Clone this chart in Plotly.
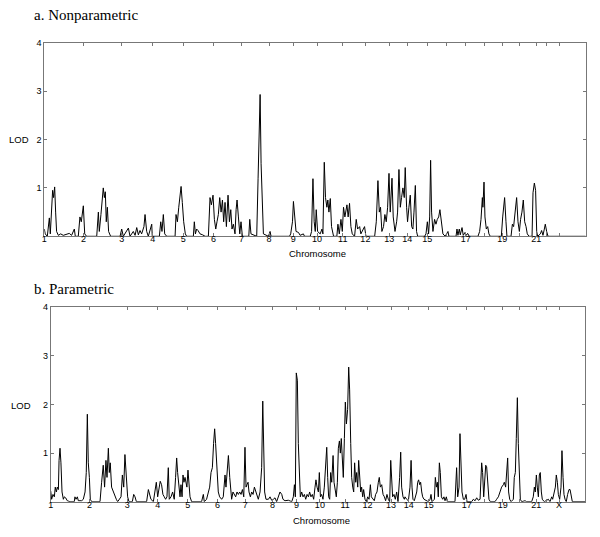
import plotly.graph_objects as go

# Chromosome start positions (cumulative cM) and labels
chrom_starts = [0, 288, 568, 794, 1018, 1239, 1445, 1646, 1824, 1998, 2186, 2352,
                2526, 2658, 2806, 2947, 3088, 3222, 3355, 3482, 3604, 3680, 3773]
chrom_labels_top = ["1", "2", "3", "4", "5", "6", "7", "8", "9", "10", "11", "12",
                    "13", "14", "15", "", "17", "", "19", "", "21", "", ""]
chrom_labels_bottom = ["1", "2", "3", "4", "5", "6", "7", "8", "9", "10", "11", "12",
                       "13", "14", "15", "", "17", "", "19", "", "21", "", "X"]
genome_end = 3966
lod_ticks = [1, 2, 3, 4]

# a. Nonparametric LOD scan
npl_pos = [0, 7, 22, 37, 44, 54, 61, 68, 76, 83, 90, 103, 120, 139, 164, 183, 200, 220, 227,
           249, 261, 271, 286, 296, 310, 384, 396, 403, 415, 425, 432, 440, 447, 454, 462, 471,
           486, 555, 567, 579, 616, 628, 652, 665, 677, 689, 701, 713, 730, 738, 750, 762, 787,
           791, 843, 853, 862, 872, 882, 897, 958, 965, 975, 985, 994, 1002, 1011, 1021, 1033,
           1043, 1092, 1099, 1107, 1116, 1126, 1141, 1160, 1178, 1202, 1214, 1224, 1236, 1246,
           1256, 1265, 1275, 1285, 1295, 1305, 1314, 1324, 1334, 1346, 1356, 1366, 1375, 1385,
           1397, 1405, 1412, 1422, 1432, 1441, 1451, 1498, 1505, 1514, 1556, 1566, 1576, 1581,
           1588, 1595, 1605, 1642, 1654, 1661, 1796, 1805, 1818, 1825, 1835, 1844, 1862, 1874,
           1898, 1906, 1948, 1958, 1968, 1977, 1985, 1992, 2002, 2021, 2034, 2041, 2051, 2060,
           2070, 2077, 2085, 2095, 2104, 2119, 2143, 2151, 2161, 2173, 2183, 2192, 2202, 2217,
           2226, 2236, 2246, 2256, 2273, 2285, 2295, 2310, 2319, 2334, 2346, 2356, 2420, 2432,
           2444, 2454, 2463, 2473, 2485, 2495, 2505, 2515, 2525, 2534, 2547, 2556, 2569, 2581,
           2588, 2598, 2608, 2617, 2627, 2637, 2644, 2654, 2661, 2671, 2681, 2691, 2700, 2708,
           2718, 2727, 2735, 2786, 2796, 2806, 2815, 2823, 2830, 2837, 2847, 2859, 2869, 2879,
           2889, 2898, 2908, 2920, 2937, 2957, 2964, 3016, 3023, 3030, 3040, 3047, 3060, 3069,
           3082, 3091, 3101, 3113, 3177, 3189, 3199, 3209, 3213, 3221, 3228, 3238, 3248, 3257,
           3267, 3348, 3358, 3365, 3372, 3382, 3389, 3419, 3429, 3438, 3448, 3460, 3470, 3480,
           3489, 3499, 3509, 3519, 3529, 3538, 3551, 3573, 3580, 3590, 3599, 3607, 3614, 3634,
           3643, 3653, 3663, 3670, 3680, 3690, 3966]
npl_lod = [0.15, 0.05, 0.0, 0.38, 0.05, 0.6, 0.95, 0.8, 1.02, 0.5, 0.1, 0.02, 0.05, 0.02, 0.05,
           0.06, 0.02, 0.15, 0.0, 0.0, 0.4, 0.3, 0.63, 0.05, 0.0, 0.0, 0.5, 0.1, 0.45, 0.75, 1.0,
           0.8, 0.92, 0.3, 0.6, 0.1, 0.0, 0.0, 0.15, 0.0, 0.17, 0.0, 0.1, 0.02, 0.18, 0.03, 0.12,
           0.05, 0.2, 0.45, 0.1, 0.0, 0.25, 0.0, 0.0, 0.3, 0.1, 0.45, 0.05, 0.0, 0.0, 0.45, 0.3,
           0.6, 0.9, 1.03, 0.7, 0.3, 0.05, 0.0, 0.0, 0.3, 0.05, 0.15, 0.12, 0.05, 0.03, 0.0, 0.0,
           0.8, 0.65, 0.85, 0.35, 0.15, 0.3, 0.45, 0.8, 0.5, 0.75, 0.3, 0.7, 0.2, 0.85, 0.3, 0.55,
           0.15, 0.25, 0.05, 0.55, 0.75, 0.4, 0.05, 0.3, 0.0, 0.0, 0.35, 0.05, 0.0, 1.2, 2.2, 2.93,
           1.5, 1.0, 0.05, 0.0, 0.1, 0.0, 0.0, 0.05, 0.3, 0.72, 0.3, 0.1, 0.08, 0.02, 0.05, 0.0,
           0.0, 0.1, 1.19, 0.3, 0.1, 0.55, 0.1, 0.05, 0.15, 0.05, 1.53, 0.8, 0.6, 0.75, 0.5, 0.78,
           0.2, 0.0, 0.0, 0.25, 0.05, 0.35, 0.1, 0.6, 0.4, 0.65, 0.4, 0.68, 0.2, 0.05, 0.0, 0.35,
           0.15, 0.2, 0.05, 0.15, 0.2, 0.0, 0.0, 0.3, 1.15, 0.5, 0.6, 0.1, 0.2, 0.45, 0.3, 0.6,
           1.3, 0.5, 1.2, 0.4, 0.1, 0.3, 0.5, 1.38, 0.6, 0.8, 1.0, 0.8, 1.42, 0.6, 0.3, 0.6, 0.85,
           0.2, 0.15, 0.5, 1.05, 0.1, 0.0, 0.0, 0.05, 0.3, 0.05, 0.4, 1.57, 0.5, 0.1, 0.35, 0.25,
           0.35, 0.4, 0.55, 0.35, 0.05, 0.0, 0.1, 0.0, 0.0, 0.15, 0.02, 0.15, 0.03, 0.18, 0.02,
           0.08, 0.02, 0.06, 0.0, 0.0, 0.1, 0.35, 0.8, 0.6, 1.12, 0.4, 0.15, 0.2, 0.05, 0.0, 0.0,
           0.4, 0.7, 0.8, 0.3, 0.0, 0.0, 0.25, 0.2, 0.45, 0.8, 0.3, 0.1, 0.35, 0.5, 0.75, 0.3,
           0.2, 0.05, 0.0, 0.0, 0.9, 1.1, 0.95, 0.1, 0.0, 0.05, 0.12, 0.02, 0.15, 0.25, 0.1, 0.0,
           0.0]

# b. Parametric LOD scan
par_pos = [0, 7, 17, 27, 34, 42, 49, 57, 62, 69, 76, 84, 94, 101, 111, 123, 143, 175, 180, 188,
           198, 205, 230, 242, 255, 264, 272, 279, 287, 294, 304, 366, 378, 390, 400, 410, 418,
           428, 435, 442, 452, 465, 477, 487, 497, 522, 532, 542, 551, 561, 571, 581, 606, 616,
           626, 636, 712, 725, 734, 744, 762, 774, 784, 794, 804, 813, 823, 833, 843, 853, 863,
           873, 880, 893, 905, 917, 927, 935, 942, 952, 960, 967, 975, 982, 989, 997, 1004, 1011,
           1019, 1026, 1034, 1046, 1120, 1133, 1140, 1157, 1170, 1180, 1190, 1200, 1209, 1217,
           1224, 1234, 1244, 1254, 1269, 1281, 1294, 1301, 1309, 1319, 1329, 1336, 1343, 1353,
           1363, 1373, 1383, 1393, 1403, 1413, 1423, 1433, 1442, 1450, 1457, 1465, 1472, 1482,
           1492, 1502, 1512, 1522, 1532, 1541, 1554, 1566, 1574, 1581, 1588, 1598, 1616, 1628,
           1640, 1653, 1665, 1677, 1690, 1702, 1715, 1724, 1739, 1764, 1789, 1801, 1809, 1816,
           1823, 1831, 1838, 1846, 1853, 1863, 1873, 1883, 1893, 1903, 1913, 1922, 1932, 1942,
           1952, 1962, 1969, 1977, 1987, 1994, 2002, 2011, 2021, 2031, 2039, 2049, 2056, 2063,
           2071, 2078, 2086, 2096, 2103, 2110, 2120, 2128, 2135, 2143, 2150, 2157, 2165, 2172,
           2180, 2187, 2195, 2204, 2212, 2219, 2227, 2234, 2242, 2249, 2256, 2264, 2271, 2279,
           2286, 2293, 2301, 2308, 2316, 2323, 2333, 2343, 2353, 2363, 2373, 2380, 2390, 2402,
           2412, 2422, 2432, 2439, 2447, 2457, 2467, 2477, 2486, 2496, 2506, 2516, 2524, 2531,
           2538, 2548, 2558, 2568, 2578, 2590, 2598, 2605, 2615, 2625, 2630, 2642, 2655, 2667,
           2675, 2682, 2689, 2699, 2709, 2717, 2724, 2731, 2739, 2746, 2754, 2761, 2771, 2783,
           2803, 2816, 2823, 2830, 2848, 2855, 2863, 2870, 2877, 2885, 2892, 2900, 2910, 2919,
           2927, 2937, 2944, 3001, 3013, 3021, 3031, 3038, 3046, 3053, 3063, 3073, 3083, 3090,
           3125, 3137, 3150, 3162, 3174, 3187, 3199, 3206, 3214, 3221, 3229, 3236, 3244, 3253,
           3263, 3298, 3310, 3323, 3335, 3347, 3360, 3367, 3377, 3385, 3392, 3399, 3407, 3417,
           3434, 3441, 3449, 3456, 3464, 3471, 3479, 3486, 3496, 3521, 3533, 3570, 3582, 3590,
           3597, 3605, 3612, 3620, 3627, 3634, 3642, 3649, 3664, 3681, 3694, 3706, 3719, 3726,
           3738, 3746, 3753, 3761, 3768, 3778, 3788, 3795, 3803, 3810, 3818, 3827, 3837, 3847,
           3855, 3862, 3872, 3966]
par_lod = [0.22, 0.05, 0.15, 0.1, 0.3, 0.2, 0.3, 0.25, 0.85, 1.1, 0.8, 0.2, 0.05, 0.1, 0.08,
           0.02, 0.0, 0.0, 0.1, 0.05, 0.1, 0.02, 0.02, 0.05, 0.2, 0.6, 1.8, 0.8, 0.5, 0.05, 0.0,
           0.0, 0.4, 0.75, 0.3, 0.85, 0.5, 1.1, 0.6, 0.8, 0.3, 0.2, 0.15, 0.05, 0.0, 0.1, 0.55,
           0.3, 0.97, 0.6, 0.1, 0.0, 0.0, 0.15, 0.1, 0.0, 0.0, 0.25, 0.15, 0.05, 0.0, 0.2, 0.4,
           0.1, 0.3, 0.42, 0.35, 0.15, 0.1, 0.05, 0.1, 0.7, 0.05, 0.1, 0.2, 0.05, 0.5, 0.9, 0.6,
           0.3, 0.1, 0.35, 0.1, 0.55, 0.4, 0.5, 0.35, 0.3, 0.65, 0.4, 0.1, 0.0, 0.0, 0.15, 0.0,
           0.05, 0.2, 0.3, 0.6, 0.7, 1.2, 1.5, 1.2, 0.7, 0.2, 0.1, 0.05, 0.1, 0.55, 0.3, 0.6, 0.95,
           0.5, 0.15, 0.05, 0.2, 0.15, 0.1, 0.2, 0.15, 0.2, 0.15, 0.25, 0.1, 1.12, 0.3, 0.35, 0.4,
           0.2, 0.1, 0.2, 0.15, 0.3, 0.2, 0.15, 0.05, 0.2, 0.7, 2.07, 1.0, 0.2, 0.05, 0.05, 0.1,
           0.03, 0.05, 0.08, 0.0, 0.1, 0.2, 0.15, 0.05, 0.02, 0.03, 0.0, 0.1, 0.35, 0.1, 2.65,
           2.5, 1.2, 0.3, 0.1, 0.2, 0.1, 0.15, 0.05, 0.15, 0.1, 0.2, 0.1, 0.15, 0.05, 0.3, 0.45,
           0.3, 0.2, 0.6, 0.1, 0.15, 0.05, 0.3, 0.6, 1.12, 0.5, 0.1, 0.05, 0.6, 0.4, 0.95, 0.4,
           0.3, 0.1, 0.4, 1.1, 1.25, 1.0, 1.3, 0.8, 0.5, 1.3, 2.05, 1.6, 1.9, 2.77, 2.3, 1.2, 0.5,
           0.3, 0.2, 0.8, 0.4, 0.6, 0.3, 0.85, 0.4, 0.2, 0.3, 0.1, 0.25, 0.05, 0.0, 0.1, 0.05,
           0.35, 0.1, 0.05, 0.02, 0.15, 0.2, 0.4, 0.5, 0.3, 0.35, 0.15, 0.1, 0.02, 0.15, 0.05,
           0.0, 0.85, 0.3, 0.1, 0.15, 0.05, 0.2, 0.0, 0.5, 1.02, 0.3, 0.1, 0.05, 0.1, 0.05, 0.02,
           0.3, 0.85, 0.3, 0.05, 0.02, 0.1, 0.2, 0.4, 0.45, 0.35, 0.4, 0.2, 0.1, 0.05, 0.03, 0.0,
           0.05, 0.15, 0.0, 0.05, 0.5, 0.3, 0.4, 0.1, 0.8, 0.6, 0.1, 0.05, 0.1, 0.02, 0.1, 0.0,
           0.0, 0.7, 0.1, 0.3, 1.4, 0.7, 0.2, 0.05, 0.05, 0.15, 0.0, 0.0, 0.05, 0.02, 0.08, 0.03,
           0.05, 0.8, 0.6, 0.1, 0.5, 0.75, 0.72, 0.3, 0.05, 0.0, 0.0, 0.05, 0.1, 0.2, 0.3, 0.35,
           0.4, 0.3, 0.6, 0.9, 0.2, 0.05, 0.0, 0.05, 0.5, 0.6, 1.3, 2.14, 1.2, 0.3, 0.05, 0.0,
           0.02, 0.0, 0.0, 0.1, 0.3, 0.2, 0.55, 0.3, 0.1, 0.55, 0.6, 0.2, 0.05, 0.0, 0.02, 0.05,
           0.0, 0.1, 0.05, 0.25, 0.3, 0.55, 0.4, 0.15, 0.05, 0.3, 1.05, 0.5, 0.15, 0.05, 0.0,
           0.15, 0.25, 0.25, 0.1, 0.0, 0.0]

W, H = 600, 537
sans = "Liberation Sans, Arial, sans-serif"
serif = "Liberation Serif, Times New Roman, serif"

fig = go.Figure()
fig.add_trace(go.Scatter(x=npl_pos, y=npl_lod, mode="lines",
                         line=dict(color="black", width=1), xaxis="x", yaxis="y",
                         showlegend=False, hoverinfo="skip"))
fig.add_trace(go.Scatter(x=par_pos, y=par_lod, mode="lines",
                         line=dict(color="black", width=1), xaxis="x2", yaxis="y2",
                         showlegend=False, hoverinfo="skip"))

def xax(domain, labels, anchor):
    return dict(domain=domain, range=[0, genome_end], anchor=anchor, automargin=False,
                tickmode="array", tickvals=chrom_starts, ticktext=labels,
                ticks="inside", ticklen=3, tickcolor="#777", showline=True,
                linecolor="#777", linewidth=1, mirror="ticks", showgrid=False,
                zeroline=False, ticklabelstandoff=-6,
                tickfont=dict(family=sans, size=9, color="black"))

def yax(domain, anchor):
    return dict(domain=domain, range=[0, 4], anchor=anchor, automargin=False,
                tickmode="array", tickvals=lod_ticks, ticktext=[str(v) for v in lod_ticks],
                ticks="inside", ticklen=3, tickcolor="#777", showline=True,
                linecolor="#777", linewidth=1, mirror="ticks", showgrid=False,
                zeroline=False, tickfont=dict(family=sans, size=9, color="black"))

fig.update_layout(
    width=W, height=H, margin=dict(l=0, r=0, t=0, b=0, autoexpand=False),
    paper_bgcolor="white", plot_bgcolor="white",
    xaxis=xax([44.3 / W, 585.7 / W], chrom_labels_top, "y"),
    yaxis=yax([1 - 236.3 / H, 1 - 42.7 / H], "x"),
    xaxis2=xax([50.7 / W, 585.0 / W], chrom_labels_bottom, "y2"),
    yaxis2=yax([1 - 501.7 / H, 1 - 307.3 / H], "x2"),
)

ann = [
    dict(text="a. Nonparametric", x=31.5 / W, y=1 - 15 / H, xanchor="left", yanchor="middle",
         font=dict(family=serif, size=15, color="black")),
    dict(text="b. Parametric", x=31.5 / W, y=1 - 288.5 / H, xanchor="left", yanchor="middle",
         font=dict(family=serif, size=15, color="black")),
    dict(text="LOD", x=19 / W, y=1 - 140 / H, xanchor="center", yanchor="middle",
         font=dict(family=sans, size=9.5, color="black")),
    dict(text="LOD", x=20.5 / W, y=1 - 405 / H, xanchor="center", yanchor="middle",
         font=dict(family=sans, size=9.5, color="black")),
    dict(text="Chromosome", x=317.7 / W, y=1 - 253 / H, xanchor="center", yanchor="middle",
         font=dict(family=sans, size=9.5, color="black")),
    dict(text="Chromosome", x=321.5 / W, y=1 - 520.7 / H, xanchor="center", yanchor="middle",
         font=dict(family=sans, size=9.5, color="black")),
]
for a in ann:
    a.update(xref="paper", yref="paper", showarrow=False)
fig.update_layout(annotations=ann)

fig.write_html("out.html", config={"displayModeBar": False},
               post_script="document.body.style.margin='0';")
